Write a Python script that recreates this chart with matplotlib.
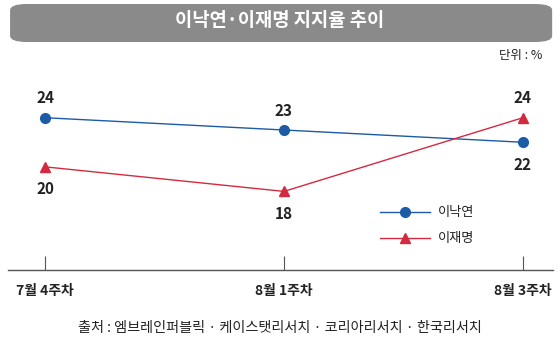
import matplotlib
matplotlib.use('Agg')
import matplotlib.pyplot as plt
import matplotlib.patches as mpatches

plt.rcParams['font.family'] = ['Noto Sans CJK KR', 'DejaVu Sans']

# ── Data ──────────────────────────────────────────────────────────────────────
weeks = ['7월 4주차', '8월 1주차', '8월 3주차']
lee_nakyon = [24, 23, 22]
lee_jaemyung = [20, 18, 24]
series_names = ['이낙연', '이재명']

BLUE = '#1d5ba6'
RED = '#d42a3f'
GRAY_BOX = '#8a8a8a'
TEXT = '#222222'

fig = plt.figure(figsize=(5.6, 3.43), dpi=100)
fig.patch.set_facecolor('white')

# ── Title box ─────────────────────────────────────────────────────────────────
box = mpatches.FancyBboxPatch((0.018, 1 - 42/343), 0.968, 38/343,
                              boxstyle="round,pad=0.0,rounding_size=0.03",
                              transform=fig.transFigure, facecolor=GRAY_BOX,
                              edgecolor='none', mutation_aspect=343/560)
fig.patches.append(box)
fig.text(0.5, 1 - 21/343, '이낙연·이재명 지지율 추이', fontsize=13.5, fontweight='bold',
         color='white', ha='center', va='center')
fig.text(0.968, 1 - 55/343, '단위 : %', fontsize=9, color=TEXT, ha='right', va='center')

# ── Chart ─────────────────────────────────────────────────────────────────────
ax = fig.add_axes([8/560, 1 - 270/343, 545/560, 210/343])
x = list(range(len(weeks)))
ax.plot(x, lee_nakyon, color=BLUE, lw=1.0, marker='o', ms=7,
        mfc=BLUE, mec=BLUE, label=series_names[0], zorder=3)
ax.plot(x, lee_jaemyung, color=RED, lw=1.0, marker='^', ms=7,
        mfc=RED, mec=RED, label=series_names[1], zorder=3)

ax.set_xlim(-0.155, 2.126)
ax.set_ylim(11.6, 28.7)

# value labels: above or below depending on position
nak_pos = ['above', 'above', 'below']
jae_pos = ['below', 'below', 'above']
for vals, pos in ((lee_nakyon, nak_pos), (lee_jaemyung, jae_pos)):
    for i, (v, p) in enumerate(zip(vals, pos)):
        off = 14 if p == 'above' else -16
        ax.annotate(str(v), (i, v), xytext=(0, off), textcoords='offset points',
                    ha='center', va='center', fontsize=11, fontweight='bold',
                    color=TEXT)

for s in ('top', 'right', 'left'):
    ax.spines[s].set_visible(False)
ax.spines['bottom'].set_color('#555555')
ax.spines['bottom'].set_linewidth(1.0)
ax.set_yticks([])
ax.set_xticks(x)
ax.set_xticklabels(weeks, fontsize=10, fontweight='bold', color=TEXT)
ax.tick_params(axis='x', direction='in', length=10, width=0.8, color='#555555', pad=10)

leg = ax.legend(loc='upper left', bbox_to_anchor=(0.66, 0.36), frameon=False,
                fontsize=9.5, handlelength=3.8, labelspacing=1.0, handletextpad=0.6)
for t in leg.get_texts():
    t.set_color(TEXT)

fig.text(0.5, 1 - 328/343, '출처 : 엠브레인퍼블릭 · 케이스탯리서치 · 코리아리서치 · 한국리서치',
         fontsize=10.2, color=TEXT, ha='center', va='center')

plt.savefig('out.png', dpi=100, facecolor='white')
plt.close()
